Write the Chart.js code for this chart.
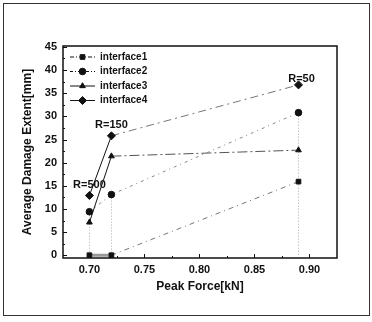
<!DOCTYPE html>
<html>
<head>
<meta charset="utf-8">
<script src="https://cdn.jsdelivr.net/npm/chart.js@4.4.1/dist/chart.umd.min.js"></script>
<style>
  body { margin: 0; background: #fff; }
  canvas { display: block; }
</style>
</head>
<body>
<canvas id="chart" width="372" height="322"></canvas>
<script>
// values
var peakForce = [0.70, 0.72, 0.89];
var interface1 = [0, 0, 15.9];
var interface2 = [9.4, 13.1, 30.8];
var interface3 = [7.1, 21.4, 22.7];
var interface4 = [12.9, 25.8, 36.8];
var seriesNames = ['interface1', 'interface2', 'interface3', 'interface4'];
var radiusLabels = ['R=500', 'R=150', 'R=50'];

var FONT = 'Liberation Sans, Arial, sans-serif';

function toPoints(values) {
  return values.map(function (v, i) { return { x: peakForce[i], y: v }; });
}

// the short 0.70 -> 0.72 pieces are drawn solid in the original
function firstSegment(ctx) {
  return ctx.p0DataIndex === 0;
}

function makeDataset(name, values, shape, dash, color) {
  return {
    label: name,
    data: toPoints(values),
    pointStyle: shape,
    pointRadius: shape === 'rectRot' ? 4 : 3.3,
    pointHoverRadius: 4,
    pointBackgroundColor: '#111',
    pointBorderColor: '#111',
    borderColor: color,
    borderWidth: 1,
    borderDash: dash,
    fill: false,
    tension: 0
  };
}

var ds1 = makeDataset(seriesNames[0], interface1, 'rect', [5, 4, 1, 4], '#777');
ds1.segment = {
  borderColor: function (ctx) { return firstSegment(ctx) ? '#999' : undefined; },
  borderWidth: function (ctx) { return firstSegment(ctx) ? 3 : undefined; },
  borderDash: function (ctx) { return firstSegment(ctx) ? [] : undefined; }
};
var ds2 = makeDataset(seriesNames[1], interface2, 'circle', [3, 4, 1, 4], '#888');
var ds3 = makeDataset(seriesNames[2], interface3, 'triangle', [10, 3, 2, 3], '#555');
ds3.segment = {
  borderColor: function (ctx) { return firstSegment(ctx) ? '#111' : undefined; },
  borderDash: function (ctx) { return firstSegment(ctx) ? [] : undefined; }
};
var ds4 = makeDataset(seriesNames[3], interface4, 'rectRot', [8, 4, 2, 4], '#777');
ds4.segment = {
  borderColor: function (ctx) { return firstSegment(ctx) ? '#111' : undefined; },
  borderDash: function (ctx) { return firstSegment(ctx) ? [] : undefined; }
};
var legendDash = [[4, 2, 1, 2], [3, 2, 1, 2], [], []];

var decorations = {
  id: 'decorations',
  beforeDraw: function (chart) {
    var c = chart.ctx;
    c.save();
    c.fillStyle = '#fff';
    c.fillRect(0, 0, chart.width, chart.height);
    c.strokeStyle = '#333';
    c.lineWidth = 1;
    c.strokeRect(3.5, 3.5, 366, 312);
    c.restore();
  },
  beforeDatasetsDraw: function (chart) {
    var c = chart.ctx, a = chart.chartArea;
    var xs = chart.scales.x, ys = chart.scales.y;
    c.save();
    // drop lines under interface2
    c.strokeStyle = '#aaa';
    c.lineWidth = 1;
    c.setLineDash([1, 2]);
    interface2.forEach(function (v, i) {
      var px = Math.round(xs.getPixelForValue(peakForce[i])) + 0.5;
      c.beginPath();
      c.moveTo(px, ys.getPixelForValue(v));
      c.lineTo(px, ys.getPixelForValue(0));
      c.stroke();
    });
    c.setLineDash([]);
    // plot frame
    c.strokeStyle = '#111';
    c.lineWidth = 1.5;
    c.strokeRect(a.left, a.top, a.right - a.left, a.bottom - a.top);
    // inward ticks, major and minor
    c.lineWidth = 1;
    ys.ticks.forEach(function (t) {
      var py = Math.round(ys.getPixelForValue(t.value)) + 0.5;
      c.beginPath(); c.moveTo(a.left, py); c.lineTo(a.left + 4, py); c.stroke();
      var my = Math.round(ys.getPixelForValue(t.value + 2.5)) + 0.5;
      if (t.value + 2.5 < ys.max) {
        c.beginPath(); c.moveTo(a.left, my); c.lineTo(a.left + 2, my); c.stroke();
      }
    });
    xs.ticks.forEach(function (t) {
      var px = Math.round(xs.getPixelForValue(t.value)) + 0.5;
      c.beginPath(); c.moveTo(px, a.bottom); c.lineTo(px, a.bottom - 4); c.stroke();
      var mx = Math.round(xs.getPixelForValue(t.value + 0.025)) + 0.5;
      if (t.value + 0.025 < xs.max) {
        c.beginPath(); c.moveTo(mx, a.bottom); c.lineTo(mx, a.bottom - 2); c.stroke();
      }
    });
    c.restore();
  },
  afterDatasetsDraw: function (chart) {
    var c = chart.ctx, a = chart.chartArea;
    var xs = chart.scales.x, ys = chart.scales.y;
    c.save();
    // R labels above the interface4 points
    c.fillStyle = '#111';
    c.font = 'bold 11px ' + FONT;
    c.textAlign = 'center';
    c.textBaseline = 'middle';
    radiusLabels.forEach(function (txt, i) {
      var px = xs.getPixelForValue(peakForce[i]);
      var py = ys.getPixelForValue(interface4[i]);
      var lift = i === 2 ? 6 : 11;
      c.fillText(txt, px + (i === 2 ? 3 : 0), py - lift);
    });
    // legend inside the plot, top left
    chart.data.datasets.forEach(function (ds, i) {
      var y = a.top + 11 + i * 14.5;
      var x0 = a.left + 7, x1 = a.left + 32;
      c.strokeStyle = '#111';
      c.lineWidth = 1;
      c.setLineDash(legendDash[i]);
      c.beginPath(); c.moveTo(x0, y); c.lineTo(x1, y); c.stroke();
      c.setLineDash([]);
      Chart.helpers.drawPoint(c, {
        pointStyle: ds.pointStyle,
        radius: ds.pointRadius,
        rotation: 0,
        borderWidth: 1
      }, (x0 + x1) / 2, y);
      c.fillStyle = '#111';
      c.textAlign = 'left';
      c.font = 'bold 10px ' + FONT;
      c.fillText(ds.label, x1 + 5, y);
    });
    c.restore();
  }
};

new Chart(document.getElementById('chart'), {
  type: 'line',
  data: { datasets: [ds1, ds2, ds3, ds4] },
  options: {
    responsive: false,
    animation: false,
    devicePixelRatio: 1,
    layout: { padding: { left: 0, top: 46, right: 35, bottom: 14 } },
    plugins: {
      legend: { display: false },
      tooltip: { enabled: false }
    },
    scales: {
      x: {
        type: 'linear',
        min: 0.676,
        max: 0.925,
        grid: { display: false, drawTicks: false },
        border: { display: false },
        afterFit: function (scale) { scale.height = 50; },
        ticks: {
          stepSize: 0.05,
          includeBounds: false,
          padding: 5,
          color: '#111',
          font: { family: FONT, size: 11, weight: 'bold' },
          callback: function (v) { return Number(v).toFixed(2); }
        },
        title: {
          display: true,
          text: 'Peak Force[kN]',
          color: '#111',
          padding: { top: 14, bottom: 14 },
          font: { family: FONT, size: 12, weight: 'bold' }
        }
      },
      y: {
        min: -0.6,
        max: 45.2,
        grid: { display: false, drawTicks: false },
        border: { display: false },
        afterFit: function (scale) { scale.width = 63; },
        ticks: {
          stepSize: 5,
          includeBounds: false,
          padding: 6,
          color: '#111',
          font: { family: FONT, size: 11, weight: 'bold' }
        },
        title: {
          display: true,
          text: 'Average Damage Extent[mm]',
          color: '#111',
          padding: { top: 20, bottom: 20 },
          font: { family: FONT, size: 12, weight: 'bold' }
        }
      }
    }
  },
  plugins: [decorations]
});
</script>
</body>
</html>
